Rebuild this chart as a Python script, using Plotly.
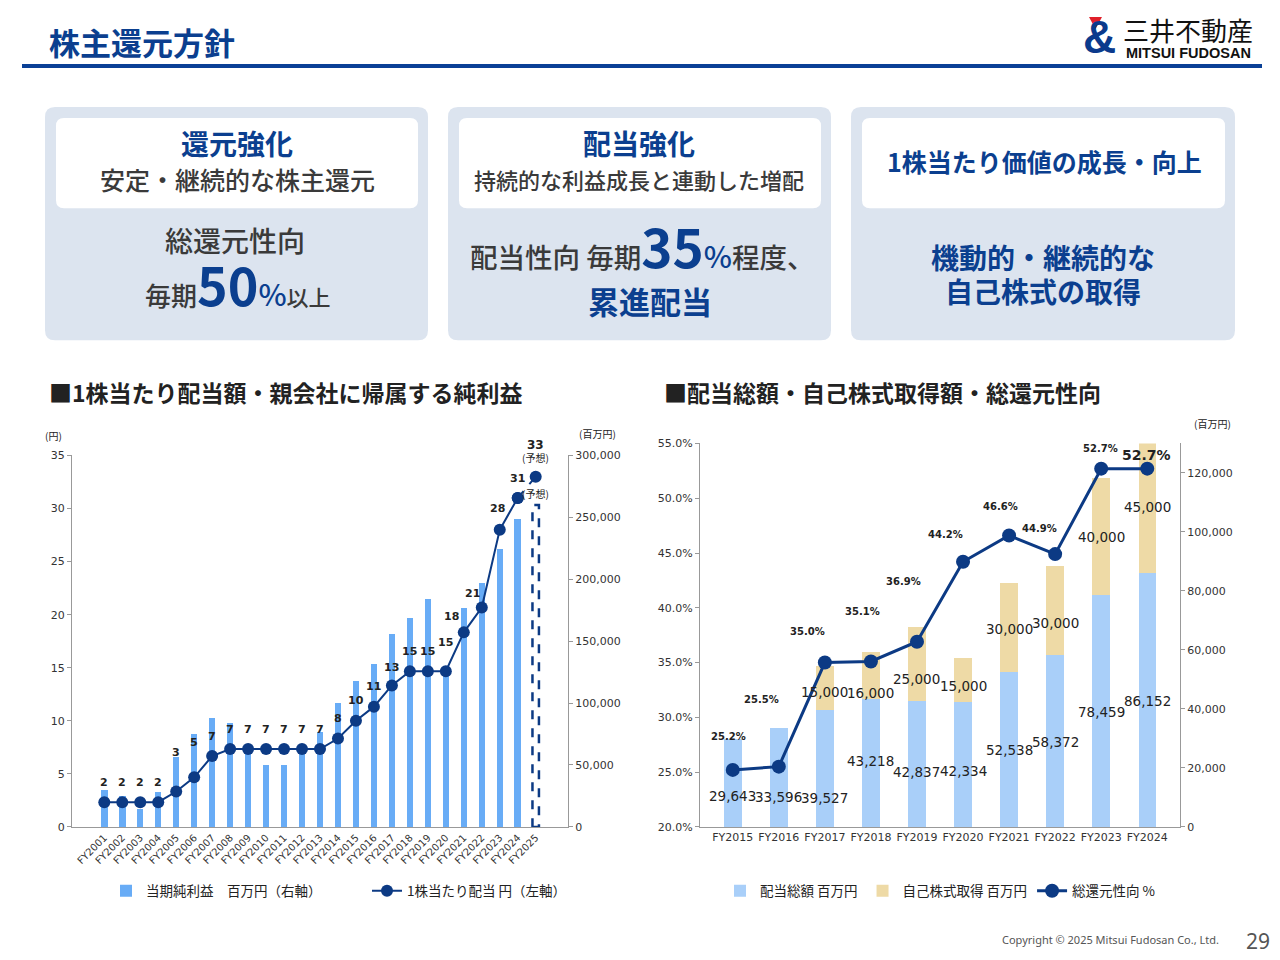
import plotly.graph_objects as go

# %% data - left chart (1株当たり配当 / 当期純利益)
years_left = ["FY2001", "FY2002", "FY2003", "FY2004", "FY2005", "FY2006", "FY2007",
              "FY2008", "FY2009", "FY2010", "FY2011", "FY2012", "FY2013", "FY2014",
              "FY2015", "FY2016", "FY2017", "FY2018", "FY2019", "FY2020", "FY2021",
              "FY2022", "FY2023", "FY2024", "FY2025"]
net_income = [29600, 25000, 14800, 28300, 56500, 75400, 88000, 84000, 60100, 50100,
              50100, 59500, 76800, 100200, 117700, 131800, 155900, 168700, 184000,
              129600, 177000, 197000, 224600, 248800, 260000]
# split-adjusted dividend per share (yen), FY2025 = forecast
dps = [2.33, 2.33, 2.33, 2.33, 3.33, 4.67, 6.67, 7.33, 7.33, 7.33, 7.33, 7.33, 7.33,
       8.33, 10.0, 11.33, 13.33, 14.67, 14.67, 14.67, 18.33, 20.67, 28.0, 31.0, 33.0]

# %% data - right chart (配当総額 / 自己株式取得 / 総還元性向)
years_right = ["FY2015", "FY2016", "FY2017", "FY2018", "FY2019", "FY2020", "FY2021",
               "FY2022", "FY2023", "FY2024"]
dividends = [29643, 33596, 39527, 43218, 42837, 42334, 52538, 58372, 78459, 86152]
buybacks = [0, 0, 15000, 16000, 25000, 15000, 30000, 30000, 40000, 45000]
total_ratio = [25.2, 25.5, 35.0, 35.1, 36.9, 44.2, 46.6, 44.9, 52.7, 52.7]

# %% styling
W, H = 1280, 960
NAVY = "#0c3a84"
TITLE_NAVY = "#0b3f8f"
BAR_BLUE = "#68acf6"
DIV_BLUE = "#a9cff9"
BUY_TAN = "#eedaa6"
JP = "Noto Sans CJK JP"
NUM = "DejaVu Sans"
DARK = "#333333"
GRAY_TXT = "#3a3a3a"

# the captured page comes out slightly squeezed vertically (about 6px down at the top,
# 98.5% scale), so slide pixel rows are mapped back through that before use
V_OFF, V_SCALE = 6.0, 0.9854


def X(px):
    return px / W


def Y(py):
    return 1 - ((py - V_OFF) / V_SCALE) / H


def rounded_box(x0, y0, x1, y1, r, fill):
    pts = [("M", x0 + r, y0), ("L", x1 - r, y0), ("Q", x1, y0, x1, y0 + r),
           ("L", x1, y1 - r), ("Q", x1, y1, x1 - r, y1), ("L", x0 + r, y1),
           ("Q", x0, y1, x0, y1 - r), ("L", x0, y0 + r), ("Q", x0, y0, x0 + r, y0)]
    path = ""
    for p in pts:
        coords = p[1:]
        s = " ".join(f"{X(coords[i]):.5f},{Y(coords[i + 1]):.5f}" for i in range(0, len(coords), 2))
        path += f"{p[0]} {s} "
    return dict(type="path", path=path + "Z", xref="paper", yref="paper",
                fillcolor=fill, line=dict(width=0), layer="below")


annotations = []


def txt(text, x, y, size, color=DARK, anchor="center", family=JP, weight=None):
    f = dict(size=size, color=color, family=family)
    if weight:
        f["weight"] = weight
    annotations.append(dict(text=text, x=X(x), y=Y(y), xref="paper", yref="paper",
                            xanchor=anchor, yanchor="middle", showarrow=False, font=f))


def data_label(text, x, y, xref, yref, shift, size, bold=False):
    annotations.append(dict(
        text=f"<b>{text}</b>" if bold else text, x=x, y=y, xref=xref, yref=yref,
        showarrow=False, xshift=shift[0], yshift=shift[1],
        font=dict(size=size, color="#222", family=NUM)))


fig = go.Figure()

# %% left chart traces
bar_colors = [BAR_BLUE] * (len(years_left) - 1) + ["rgba(0,0,0,0)"]
fig.add_trace(go.Bar(
    x=years_left, y=net_income, marker=dict(color=bar_colors, line=dict(width=0)),
    width=0.36, name="当期純利益　百万円（右軸）", xaxis="x", yaxis="y",
    legend="legend"))

fig.add_trace(go.Scatter(
    x=years_left[:-1], y=dps[:-1], mode="lines+markers", xaxis="x", yaxis="y2",
    line=dict(color=NAVY, width=2), marker=dict(size=12, color=NAVY),
    name="1株当たり配当 円（左軸）", legend="legend"))
fig.add_trace(go.Scatter(
    x=years_left[-2:], y=dps[-2:], mode="lines+markers", xaxis="x", yaxis="y2",
    line=dict(color=NAVY, width=2, dash="dash"), marker=dict(size=12, color=NAVY),
    showlegend=False))

# dividend labels: mostly 20px above the dot, a few nudged like the source slide
dps_shift = {4: (0, 39), 5: (0, 35), 16: (0, 18), 19: (0, 29), 20: (-12, 16),
             21: (-9, 14), 22: (-2, 21), 23: (0, 19)}
for i, (yr, v) in enumerate(zip(years_left[:-1], dps[:-1])):
    data_label(str(round(v)), yr, v, "x", "y2", dps_shift.get(i, (0, 20)), 11, True)

# forecast: dashed outline bar and (予想) notes
n = len(years_left) - 1
dashed_bar = dict(type="rect", xref="x", yref="y", x0=n - 0.18, x1=n + 0.18, y0=0,
                  y1=net_income[-1], line=dict(color=NAVY, width=2.5, dash="dash"))
annotations.append(dict(text="(予想)", x=years_left[-1], y=net_income[-1], xref="x",
                        yref="y", yanchor="bottom", yshift=2, showarrow=False,
                        font=dict(size=10, color="#222", family=JP)))
annotations.append(dict(text="(予想)", x=years_left[-1], y=dps[-1], xref="x",
                        yref="y2", yanchor="bottom", yshift=10, showarrow=False,
                        font=dict(size=10, color="#222", family=JP)))
annotations.append(dict(text=f"<b>{round(dps[-1])}</b>", x=years_left[-1], y=dps[-1],
                        xref="x", yref="y2", yanchor="bottom", yshift=23,
                        showarrow=False, font=dict(size=12, color="#222", family=NUM)))

# %% right chart traces
fig.add_trace(go.Bar(
    x=years_right, y=dividends, marker=dict(color=DIV_BLUE, line=dict(width=0)),
    width=0.38, name="配当総額 百万円", xaxis="x2", yaxis="y3", legend="legend2"))
fig.add_trace(go.Bar(
    x=years_right, y=buybacks, marker=dict(color=BUY_TAN, line=dict(width=0)),
    width=0.38, name="自己株式取得 百万円", xaxis="x2", yaxis="y3", legend="legend2"))
fig.add_trace(go.Scatter(
    x=years_right, y=total_ratio, mode="lines+markers", xaxis="x2", yaxis="y4",
    line=dict(color=NAVY, width=3), marker=dict(size=14, color=NAVY),
    name="総還元性向 %", legend="legend2"))

# bar value labels, placed at segment middles with the slide's small nudges
div_shift = [-13, -20, -29, 2, -8, -7, -1, -1, -1, -1]
buy_shift = [0, 0, -4, -17, -15, -6, -1, -13, -1, -1]
for i, yr in enumerate(years_right):
    d, b = dividends[i], buybacks[i]
    data_label(f"{d:,}", yr, d / 2, "x2", "y3", (0, div_shift[i]), 13.5)
    if b:
        data_label(f"{b:,}", yr, d + b / 2, "x2", "y3", (0, buy_shift[i]), 13.5)

# ratio labels
pct_shift = [(-4, 33), (-17, 67), (-17, 31), (-8, 50), (-13, 60), (-18, 27),
             (-9, 29), (-16, 26), (-1, 20), (-1, 14)]
for i, (yr, v) in enumerate(zip(years_right, total_ratio)):
    last = i == len(years_right) - 1
    data_label(f"{v:.1f}%", yr, v, "x2", "y4", pct_shift[i], 14 if last else 10, True)

# %% page decoration
shapes = [
    dict(type="line", xref="paper", yref="paper", x0=X(22), x1=X(1262), y0=Y(66),
         y1=Y(66), line=dict(color="#0a4096", width=4)),
    rounded_box(45, 107, 428, 340, 10, "#dce4ef"),
    rounded_box(448, 107, 831, 340, 10, "#dce4ef"),
    rounded_box(851, 107, 1235, 340, 10, "#dce4ef"),
    rounded_box(56, 118, 418, 208, 8, "#ffffff"),
    rounded_box(459, 118, 821, 208, 8, "#ffffff"),
    rounded_box(862, 118, 1225, 208, 8, "#ffffff"),
    dict(type="path", xref="paper", yref="paper", fillcolor="#e0202a", line=dict(width=0),
         path=f"M {X(1089)},{Y(17)} L {X(1102)},{Y(17)} L {X(1095.5)},{Y(29)} Z"),
    dashed_bar,
]

txt("<b>株主還元方針</b>", 47, 41, 31, TITLE_NAVY, "left")
txt("<b>&</b>", 1099, 37, 46, "#0b3a8c", family="Liberation Sans")
txt("三井不動産", 1188, 29, 26, "#111")
txt("<b>MITSUI FUDOSAN</b>", 1188, 53, 14.5, "#111", family="Liberation Sans")

# box 1
txt("<b>還元強化</b>", 237, 143, 28, TITLE_NAVY)
txt("安定・継続的な株主還元", 237, 179, 25, GRAY_TXT, weight=500)
txt("総還元性向", 235, 240, 28, GRAY_TXT, weight=500)
txt("毎期<span style='font-size:52px;color:#0b3f8f'><b>50</b></span>"
    "<span style='font-size:30px;color:#0b3f8f'>%</span><span style='font-size:22px'>以上</span>",
    238, 283, 26, GRAY_TXT, weight=500)
# box 2
txt("<b>配当強化</b>", 639, 143, 28, TITLE_NAVY)
txt("持続的な利益成長と連動した増配", 639, 179, 22, GRAY_TXT, weight=500)
txt("配当性向 毎期<span style='font-size:53px;color:#0b3f8f'><b>35</b></span>"
    "<span style='font-size:30px;color:#0b3f8f'>%</span>程度、", 642, 245, 27.5, GRAY_TXT,
    weight=500)
txt("<b>累進配当</b>", 650, 300, 31, TITLE_NAVY)
# box 3
txt("<b>1株当たり価値の成長・向上</b>", 1044, 161, 25, TITLE_NAVY)
txt("<b>機動的・継続的な</b>", 1043, 257, 28, TITLE_NAVY)
txt("<b>自己株式の取得</b>", 1043, 291, 28, TITLE_NAVY)

# section headers
txt("<b>■1株当たり配当額・親会社に帰属する純利益</b>", 47, 392, 23, "#222", "left")
txt("<b>■配当総額・自己株式取得額・総還元性向</b>", 662, 392, 23, "#222", "left")

# axis unit labels
txt("(円)", 53, 435, 10, "#222")
txt("(百万円)", 597, 433, 10, "#222")
txt("(百万円)", 1212, 423, 10, "#222")

# footer
txt("Copyright © 2025 Mitsui Fudosan Co., Ltd.", 1221, 938, 11, "#555", "right",
    family="Noto Sans")
txt("29", 1258, 940, 21, "#555", family="Noto Sans")

axis_common = dict(showgrid=False, zeroline=False, showline=True, linecolor="#999",
                   linewidth=1, tickfont=dict(size=11, color="#333", family=NUM),
                   ticks="outside", ticklen=4, tickcolor="#999")

fig.update_layout(
    width=W, height=H, margin=dict(l=0, r=0, t=0, b=0),
    paper_bgcolor="white", plot_bgcolor="white",
    barmode="stack", font=dict(family=JP, color=DARK),
    xaxis=dict(domain=[X(72), X(568)], anchor="y", type="category", tickangle=-45,
               showgrid=False, showline=True, linecolor="#999", ticks="",
               tickfont=dict(size=10, color="#333", family=NUM)),
    yaxis=dict(axis_common, domain=[Y(826), Y(455)], range=[0, 300000], side="right",
               anchor="x", tickvals=[0, 50000, 100000, 150000, 200000, 250000, 300000],
               tickformat=","),
    yaxis2=dict(axis_common, overlaying="y", side="left", anchor="x", range=[0, 35],
                dtick=5),
    xaxis2=dict(domain=[X(700), X(1180)], anchor="y3", type="category", showgrid=False,
                showline=True, linecolor="#999", ticks="",
                tickfont=dict(size=11, color="#333", family=NUM)),
    yaxis3=dict(axis_common, domain=[Y(826), Y(443)], range=[0, 130000], side="right",
                anchor="x2", tickvals=[0, 20000, 40000, 60000, 80000, 100000, 120000],
                tickformat=","),
    yaxis4=dict(axis_common, overlaying="y3", side="left", anchor="x2", range=[20, 55],
                dtick=5, tickformat=".1f", ticksuffix="%"),
    legend=dict(orientation="h", x=X(106), y=Y(890), xanchor="left", yanchor="middle",
                font=dict(size=13.5, color="#222", family=JP), bgcolor="rgba(0,0,0,0)",
                entrywidth=216, traceorder="normal"),
    legend2=dict(orientation="h", x=X(720), y=Y(890), xanchor="left", yanchor="middle",
                 font=dict(size=13.5, color="#222", family=JP), bgcolor="rgba(0,0,0,0)",
                 traceorder="normal"),
    shapes=shapes, annotations=annotations, showlegend=True,
)

# pin the graph div to the window corner (no body margin, no page scroll)
pin = ("document.body.style.margin='0';"
       "var d=document.getElementById('{plot_id}');"
       "d.style.position='fixed';d.style.top='0';d.style.left='0';")
fig.write_html("out.html", config={"displayModeBar": False}, post_script=pin)
